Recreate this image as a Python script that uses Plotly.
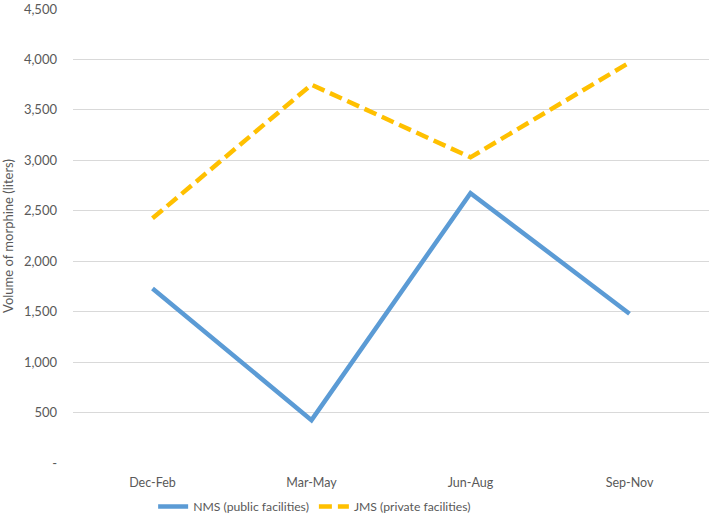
import plotly.graph_objects as go

categories = ["Dec-Feb", "Mar-May", "Jun-Aug", "Sep-Nov"]
nms_values = [1730, 425, 2675, 1480]
jms_values = [2425, 3750, 3030, 3970]
y_tickvals = [0, 500, 1000, 1500, 2000, 2500, 3000, 3500, 4000, 4500]
y_ticktext = ["-", "500", "1,000", "1,500", "2,000", "2,500", "3,000", "3,500", "4,000", "4,500"]

font_family = "Lato, Open Sans, sans-serif"
gray = "#595959"

fig = go.Figure()
fig.add_trace(go.Scatter(
    x=categories, y=nms_values, mode="lines", name="NMS (public facilities)",
    line=dict(color="#5B9BD5", width=4.5),
))
fig.add_trace(go.Scatter(
    x=categories, y=jms_values, mode="lines", name="JMS (private facilities)",
    line=dict(color="#FFC000", width=4.5, dash="13px,6px"),
))

fig.update_layout(
    width=712, height=518,
    margin=dict(l=73, r=3, t=9, b=55, autoexpand=False),
    paper_bgcolor="white", plot_bgcolor="white",
    font=dict(family=font_family, size=13, color=gray),
    showlegend=True,
    legend=dict(
        orientation="h", x=0.126, xanchor="left", y=-0.064, yanchor="top",
        font=dict(size=12.2, color=gray), itemwidth=30, traceorder="normal",
    ),
    xaxis=dict(
        type="category", range=[-0.5, 3.5], showgrid=False, zeroline=False,
        showline=False, ticks="", tickfont=dict(size=12.5, color=gray), automargin=False,
        ticklabelstandoff=10,
    ),
    yaxis=dict(
        range=[0, 4500], tickvals=y_tickvals, ticktext=y_ticktext,
        showgrid=True, gridcolor="#D9D9D9", gridwidth=1, zeroline=False,
        showline=False, ticks="", tickfont=dict(size=13, color=gray), automargin=False,
        ticklabelstandoff=15, ticklabeloverflow="allow",
        title=dict(text="Volume of morphine (liters)", font=dict(size=13, color=gray), standoff=14),
    ),
)

fig.write_html(
    "out.html",
    config={"displayModeBar": False},
    post_script="document.body.style.margin='0';document.body.style.padding='0';",
)
